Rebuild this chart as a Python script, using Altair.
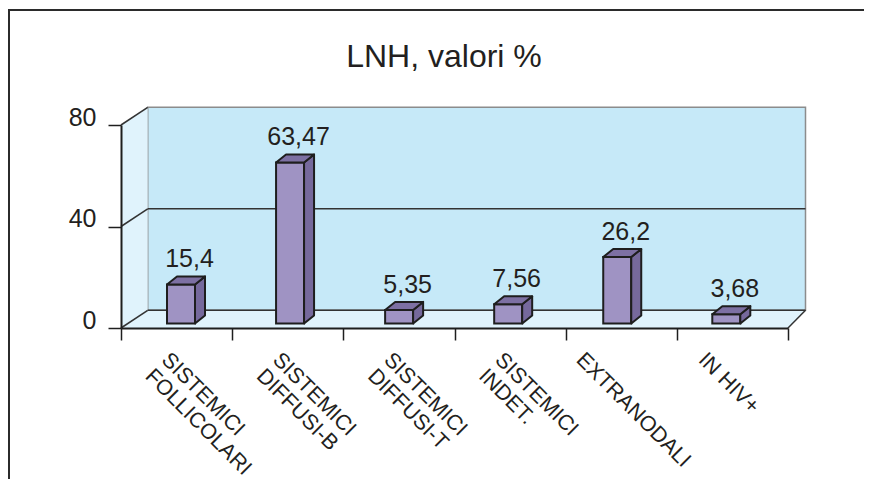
import altair as alt
import pandas as pd

# ---------------- data ----------------
categories = ["SISTEMICI\nFOLLICOLARI", "SISTEMICI\nDIFFUSI-B", "SISTEMICI\nDIFFUSI-T",
              "SISTEMICI\nINDET.", "EXTRANODALI", "IN HIV+"]
values = [15.4, 63.47, 5.35, 7.56, 26.2, 3.68]
value_labels = ["15,4", "63,47", "5,35", "7,56", "26,2", "3,68"]
y_ticks = [0, 40, 80]
chart_title = "LNH, valori %"

# ---------------- layout / style ----------------
W, H = 667, 203
N = len(categories)
YMAX = 80
XU = W / N          # px per x unit
YU = H / YMAX       # px per y unit
FONT = "Liberation Sans"
TXT = "#231f20"
LINE = "#1e1e1e"

BAR_W, BAR_DX, BAR_DY, BAR_BASE = 28, 10, 8, -4.5
BAR_X0, BAR_STEP = 60, 109.06
WALL_DXL, WALL_DXR, WALL_DY = 26.7, 17.5, 17.7

df = pd.DataFrame({"cat": categories, "value": values, "label": value_labels,
                   "idx": list(range(N))})
grid = pd.DataFrame({"v": y_ticks})
one = pd.DataFrame({"z": [0]})

xs = alt.Scale(domain=[0, N], nice=False, zero=False)
ys = alt.Scale(domain=[0, YMAX], nice=False, zero=False)

x_axis = alt.Axis(values=list(range(N + 1)), labels=False, title=None, grid=False,
                  domainColor=LINE, domainWidth=2, tickColor=LINE, tickWidth=1.5,
                  tickSize=12, zindex=1)
y_axis = alt.Axis(values=y_ticks, title=None, grid=False, domainColor=LINE,
                  domainWidth=2, tickColor=LINE, tickWidth=1.5, tickSize=13,
                  labelFont=FONT, labelFontSize=25, labelColor=TXT,
                  labelPadding=12, labelBaseline="alphabetic", zindex=1)


def X(f):
    return alt.X(f, type="quantitative", scale=xs, axis=x_axis)


def Y(f):
    return alt.Y(f, type="quantitative", scale=ys, axis=y_axis)


# frame
frame = alt.Chart(one).mark_rect(fill="white", fillOpacity=0, stroke="#2b2b2b", strokeWidth=2).encode(
    x=alt.value(-112), x2=alt.value(W + 200), y=alt.value(-115), y2=alt.value(H + 300))

# back wall
back = alt.Chart(one).mark_rect(fill="#c6e9f8", stroke="#8c8c8c", strokeWidth=1.5,
                                yOffset=-WALL_DY, y2Offset=-WALL_DY).encode(
    x=alt.value(WALL_DXL), x2=alt.value(W + WALL_DXR),
    y=alt.YDatum(YMAX, scale=ys, axis=y_axis), y2=alt.datum(0))

# left wall
left = alt.Chart(one).transform_calculate(k="[0,1]").transform_flatten(["k"]).transform_calculate(
    px=f"datum.k * {WALL_DXL / XU}",
    top=f"{YMAX} + datum.k * {WALL_DY / YU}",
    bot=f"datum.k * {WALL_DY / YU}",
).mark_area(orient="vertical", fill="#e0f3fc").encode(
    x=X("px"), y=Y("top"), y2="bot:Q")

# floor
floor = alt.Chart(one).transform_calculate(k="[0,1]").transform_flatten(["k"]).transform_calculate(
    py=f"datum.k * {WALL_DY / YU}",
    l=f"datum.k * {WALL_DXL / XU}",
    r=f"{N} + datum.k * {WALL_DXR / XU}",
).mark_area(orient="horizontal", fill="#e0f3fc").encode(
    y=Y("py"), x=X("l"), x2="r:Q")

# grid lines on back wall
back_grid = alt.Chart(grid).transform_filter(f"datum.v < {YMAX}").mark_rule(
    color="#333333", strokeWidth=1.5, yOffset=-WALL_DY).encode(
    y=Y("v"), x=alt.value(WALL_DXL), x2=alt.value(W + WALL_DXR))

# slanted lines on left wall
slants = alt.Chart(grid).transform_calculate(k="[0,1]").transform_flatten(["k"]).transform_calculate(
    px=f"datum.k * {WALL_DXL / XU}",
    py=f"datum.v + datum.k * {WALL_DY / YU}",
).mark_line(color="#333333", strokeWidth=1.5).encode(
    x=X("px"), y=Y("py"), detail="v:Q")

# right floor edge
right_edge = alt.Chart(one).transform_calculate(k="[0,1]").transform_flatten(["k"]).transform_calculate(
    px=f"{N} + datum.k * {WALL_DXR / XU}",
    py=f"datum.k * {WALL_DY / YU}",
).mark_line(color="#333333", strokeWidth=1.5).encode(x=X("px"), y=Y("py"))

# bars
bars_base = alt.Chart(df).transform_calculate(
    cx=f"({BAR_X0} + {BAR_STEP} * datum.idx) / {XU}")

front = bars_base.transform_calculate(
    x0=f"datum.cx - {BAR_W / 2 / XU}", x1=f"datum.cx + {BAR_W / 2 / XU}"
).mark_rect(fill="#9f93c3", stroke=LINE, strokeWidth=2,
            yOffset=BAR_BASE, y2Offset=BAR_BASE).encode(
    x=X("x0"), x2="x1:Q", y=Y("value"), y2=alt.datum(0))

side = bars_base.transform_calculate(k="[0,1]").transform_flatten(["k"]).transform_calculate(
    sx=f"datum.cx + {BAR_W / 2 / XU} + datum.k * {BAR_DX / XU}",
    st=f"datum.value + datum.k * {BAR_DY / YU}",
    sb=f"datum.k * {BAR_DY / YU}",
).mark_area(orient="vertical", fill="#76699c", stroke=LINE, strokeWidth=2, strokeJoin="round",
            yOffset=BAR_BASE, y2Offset=BAR_BASE).encode(
    x=X("sx"), y=Y("st"), y2="sb:Q", detail="cat:N")

top = bars_base.transform_calculate(k="[0,1]").transform_flatten(["k"]).transform_calculate(
    ty=f"datum.value + datum.k * {BAR_DY / YU}",
    tl=f"datum.cx - {BAR_W / 2 / XU} + datum.k * {BAR_DX / XU}",
    tr=f"datum.cx + {BAR_W / 2 / XU} + datum.k * {BAR_DX / XU}",
).mark_area(orient="horizontal", fill="#7d70a3", stroke=LINE, strokeWidth=2, strokeJoin="round",
            yOffset=BAR_BASE).encode(
    y=Y("ty"), x=X("tl"), x2="tr:Q", detail="cat:N")

vlab = bars_base.mark_text(font=FONT, fontSize=25, color=TXT, baseline="alphabetic",
                           dx=8.5, dy=-17 + BAR_BASE).encode(
    x=X("cx"), y=Y("value"), text="label:N")

# rotated category labels
xlab = alt.Chart(df).transform_calculate(
    lx=f"datum.idx + 0.5 + (datum.cat == 'EXTRANODALI' ? {-34 / XU} : "
       f"datum.cat == 'IN HIV+' ? {-23 / XU} : {-4 / XU})"
).mark_text(angle=45, align="left", baseline="top", lineBreak="\n", lineHeight=23,
            fontSize=21.5, font=FONT, color=TXT).encode(
    x=X("lx"), y=alt.value(H + 21), text="cat:N")

title = alt.Chart(one).mark_text(text=chart_title, fontSize=32, font=FONT, color=TXT,
                                 align="center", baseline="alphabetic").encode(
    x=alt.value(323), y=alt.value(-58.3))

chart = alt.layer(frame, back, left, floor, back_grid, slants, right_edge,
                  front, side, top, vlab, xlab, title).properties(
    width=W, height=H,
    autosize=alt.AutoSizeParams(type="none"),
    padding={"left": 113, "top": 117, "right": 76, "bottom": 151},
).configure_view(strokeWidth=0)

chart.save("out.html", embed_options={"renderer": "svg", "actions": False})
